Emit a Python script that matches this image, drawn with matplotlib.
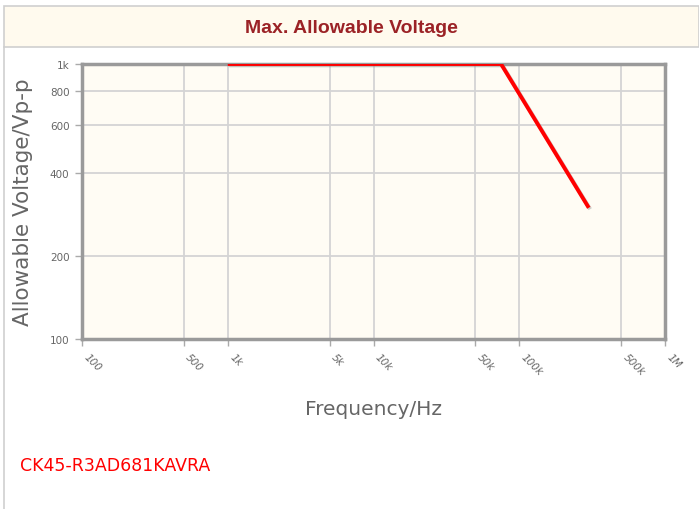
"""Max. allowable voltage vs frequency for CK45-R3AD681KAVRA."""

import matplotlib

matplotlib.use("Agg")
import matplotlib.patheffects as pe
import matplotlib.pyplot as plt
from matplotlib.lines import Line2D
from matplotlib.patches import Rectangle

# data
freq_hz = [1000, 75000, 300000]
voltage_vpp = [1000, 1000, 300]

x_ticks = [100, 500, 1000, 5000, 10000, 50000, 100000, 500000, 1000000]
x_tick_labels = ["100", "500", "1k", "5k", "10k", "50k", "100k", "500k", "1M"]
y_ticks = [100, 200, 400, 600, 800, 1000]
y_tick_labels = ["100", "200", "400", "600", "800", "1k"]

TITLE = "Max. Allowable Voltage"
PART = "CK45-R3AD681KAVRA"

W, H = 699, 510
GREY = "#666666"

fig = plt.figure(figsize=(W / 100, H / 100), dpi=100)
fig.patch.set_facecolor("white")

# title band
fig.patches.append(Rectangle((4 / W, 1 - 48 / H), (W - 4) / W, 41 / H,
                             transform=fig.transFigure, facecolor="#fffaee",
                             edgecolor="#cfcfcf", linewidth=1.2))
fig.lines.append(Line2D([4 / W, 4 / W], [0, 1 - 48 / H], transform=fig.transFigure,
                        color="#cfcfcf", linewidth=1.2))
fig.text(0.5 + 2 / W, 1 - 28.5 / H, TITLE, ha="center", va="center", fontsize=14,
         fontweight="bold", family=["Liberation Sans", "DejaVu Sans"],
         color="#9b2226")

ax = fig.add_axes([82 / W, 1 - 340 / H, 583 / W, 275 / H])
ax.set_facecolor("#fffcf4")
ax.set_xscale("log")
ax.set_yscale("log")
ax.set_xlim(100, 1e6)
ax.set_ylim(100, 1000)

ax.set_xticks(x_ticks)
ax.set_xticklabels(x_tick_labels, rotation=-45, ha="left", va="top", fontsize=7.5,
                   color=GREY, style="italic")
ax.set_yticks(y_ticks)
ax.set_yticklabels(y_tick_labels, fontsize=7.5, color=GREY)
ax.minorticks_off()
ax.tick_params(axis="both", length=5, width=1, color="#aaaaaa", pad=4)
ax.grid(True, color="#d4d4d4", linewidth=1.3)
ax.set_axisbelow(True)

for spine in ax.spines.values():
    spine.set_color("#9a9a9a")
    spine.set_linewidth(2.5)

ax.plot(freq_hz, voltage_vpp, color="#ff0000", linewidth=2.8, solid_capstyle="butt",
        path_effects=[pe.SimpleLineShadow(offset=(1, -1), shadow_color="#888888", alpha=0.4),
                      pe.Normal()], zorder=5)

ax.set_xlabel("Frequency/Hz", fontsize=14.5, color=GREY, labelpad=16)
ax.set_ylabel("Allowable Voltage/Vp-p", fontsize=15.5, color=GREY, labelpad=12)

fig.text(20 / W, 1 - 466 / H, PART, ha="left", va="center", fontsize=12.5, color="#ff0000")

fig.savefig("out.png", dpi=100)
